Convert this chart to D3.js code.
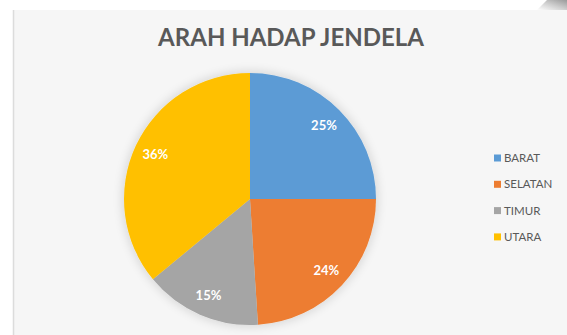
<!DOCTYPE html>
<html>
<head>
<meta charset="utf-8">
<script src="https://cdn.jsdelivr.net/npm/d3@7"></script>
<style>
  html, body { margin: 0; padding: 0; background: #ffffff; }
  svg { display: block; }
</style>
</head>
<body>
<svg id="chart" width="567" height="335"></svg>
<script>
// Window orientation survey
const categories = ["BARAT", "SELATAN", "TIMUR", "UTARA"];
const values = [25, 24, 15, 36];
const colors = ["#5B9BD5", "#ED7D31", "#A5A5A5", "#FFC000"];
const title = "ARAH HADAP JENDELA";

const svg = d3.select("#chart");
const W = 567, H = 335;

const defs = svg.append("defs");
const shadow = defs.append("filter").attr("id", "soft")
  .attr("x", "-20%").attr("y", "-20%").attr("width", "140%").attr("height", "140%");
shadow.append("feGaussianBlur").attr("in", "SourceAlpha").attr("stdDeviation", 6).attr("result", "b");
shadow.append("feComponentTransfer").attr("in", "b").attr("result", "c")
  .append("feFuncA").attr("type", "linear").attr("slope", 0.18);
const merge = shadow.append("feMerge");
merge.append("feMergeNode").attr("in", "c");
merge.append("feMergeNode").attr("in", "SourceGraphic");

const curl = defs.append("linearGradient").attr("id", "curl")
  .attr("x1", "0").attr("y1", "1").attr("x2", "1").attr("y2", "0");
curl.append("stop").attr("offset", "0").attr("stop-color", "#ffffff");
curl.append("stop").attr("offset", "0.5").attr("stop-color", "#cfcfcf");
curl.append("stop").attr("offset", "1").attr("stop-color", "#9a9a9a");

// chart area
svg.append("rect").attr("x", 13).attr("y", 10).attr("width", W - 13).attr("height", H - 10)
  .attr("fill", "#f6f6f6");
svg.append("line").attr("x1", 13.5).attr("x2", 13.5).attr("y1", 10).attr("y2", H)
  .attr("stroke", "#dcdcdc").attr("stroke-width", 1.5);
svg.append("path").attr("d", `M${W - 30},10 L${W},10 L${W},0 L${W - 20},0 Z`)
  .attr("fill", "url(#curl)");

// title
svg.append("text").attr("x", 291).attr("y", 46)
  .attr("text-anchor", "middle")
  .attr("font-family", "Lato, 'Open Sans', sans-serif")
  .attr("font-weight", 700).attr("font-size", 24)
  .attr("fill", "#595959").text(title);

// pie
const cx = 250, cy = 199, r = 126;
const pie = d3.pie().sort(null).value(d => d)(values);
const arc = d3.arc().innerRadius(0).outerRadius(r);
const labelArc = d3.arc().innerRadius(r * 0.83).outerRadius(r * 0.83);
const fmt = d3.format(".0%");

const g = svg.append("g").attr("transform", `translate(${cx},${cy})`);
g.append("g").attr("filter", "url(#soft)")
  .selectAll("path").data(pie).join("path")
  .attr("d", arc).attr("fill", (d, i) => colors[i]);

g.selectAll("text.lbl").data(pie).join("text")
  .attr("class", "lbl")
  .attr("transform", d => `translate(${labelArc.centroid(d)})`)
  .attr("text-anchor", "middle").attr("dy", "0.35em")
  .attr("font-family", "Lato, 'Open Sans', sans-serif")
  .attr("font-weight", 700).attr("font-size", 13)
  .attr("fill", "#ffffff")
  .text(d => fmt(d.data / d3.sum(values)));

// legend
const legend = svg.append("g").attr("transform", "translate(494,158)");
const item = legend.selectAll("g").data(categories).join("g")
  .attr("transform", (d, i) => `translate(0,${i * 26.3})`);
item.append("rect").attr("x", 0).attr("y", -3.5).attr("width", 7).attr("height", 7)
  .attr("fill", (d, i) => colors[i]);
item.append("text").attr("x", 10).attr("dy", "0.35em")
  .attr("font-family", "Lato, 'Open Sans', sans-serif")
  .attr("font-size", 11.5).attr("fill", "#595959")
  .text(d => d);
</script>
</body>
</html>
